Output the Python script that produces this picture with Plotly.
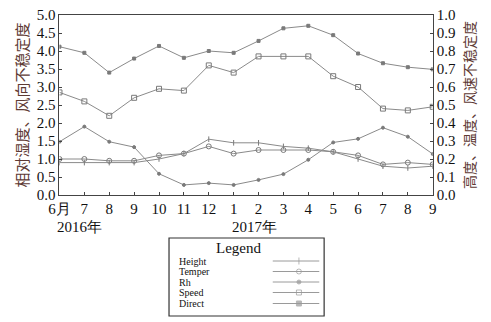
import plotly.graph_objects as go

# ---------------- data ----------------
months = ["6月", "7", "8", "9", "10", "11", "12", "1", "2", "3", "4", "5", "6", "7", "8", "9"]
year_labels = ["2016年", "2017年"]
year_positions = [0, 7]

# left axis (相对湿度、风向不稳定度)
direct = [4.12, 3.95, 3.40, 3.79, 4.14, 3.81, 4.00, 3.95, 4.28, 4.63, 4.70, 4.44, 3.93, 3.66, 3.55, 3.49]
rh = [1.48, 1.90, 1.48, 1.33, 0.59, 0.28, 0.33, 0.28, 0.42, 0.58, 0.98, 1.46, 1.56, 1.87, 1.62, 1.14]
# right axis (高度、温度、风速不稳定度)
height = [0.18, 0.18, 0.18, 0.18, 0.20, 0.23, 0.31, 0.29, 0.29, 0.27, 0.26, 0.24, 0.20, 0.16, 0.15, 0.16]
temper = [0.20, 0.20, 0.19, 0.19, 0.22, 0.23, 0.27, 0.23, 0.25, 0.25, 0.25, 0.24, 0.22, 0.17, 0.18, 0.17]
speed = [0.57, 0.52, 0.44, 0.54, 0.59, 0.58, 0.72, 0.68, 0.77, 0.77, 0.77, 0.66, 0.60, 0.48, 0.47, 0.49]

legend_names = ["Height", "Temper", "Rh", "Speed", "Direct"]
legend_symbols = ["line-ns", "circle-open", "circle", "square-open", "square"]

W, H = 491, 322
PL, PR, PT, PB = 50, 435, 15, 195  # plot box in pixels

def px_x(v):
    return v / W

def px_y(v):
    return 1 - v / H

LINE = "#8a8a8a"
MK = "#7a7a7a"
SERIF = "Liberation Serif, Times New Roman, serif"
CJK = "Noto Sans CJK SC"
TITLE_COL = "#5e3a34"

x = list(range(len(months)))
fig = go.Figure()

def add_series(y, symbol, axis, size):
    fig.add_trace(go.Scatter(
        x=x, y=y, mode="lines+markers", xaxis="x", yaxis=axis,
        line=dict(color=LINE, width=1),
        marker=dict(symbol=symbol, size=size, color=MK,
                    line=dict(color=MK, width=1)),
        showlegend=False, hoverinfo="skip"))

add_series(direct, "square", "y", 3)
add_series(rh, "circle", "y", 3)
add_series(speed, "square-open", "y2", 5)
add_series(temper, "circle-open", "y2", 5)
add_series(height, "line-ns", "y2", 4)

# ---------------- custom legend (inside a small axis) ----------------
leg_y = [261, 271.5, 282, 292.5, 303.5]
leg_sizes = [5, 5, 4, 5, 5]
for name, sym, ly, sz in zip(legend_names, legend_symbols, leg_y, leg_sizes):
    fig.add_trace(go.Scatter(
        x=[270, 297, 318], y=[ly, ly, ly], xaxis="x3", yaxis="y3",
        mode="lines+markers", line=dict(color="#9a9a9a", width=1),
        marker=dict(symbol=sym, size=[0, sz, 0], color="#9a9a9a",
                    line=dict(color="#9a9a9a", width=1)),
        showlegend=False, hoverinfo="skip"))

annotations = []
for name, ly in zip(legend_names, leg_y):
    annotations.append(dict(x=172, y=ly, xref="x3", yref="y3", text=name,
                            showarrow=False, xanchor="left", yanchor="middle",
                            borderpad=0,
                            font=dict(family=SERIF, size=10, color="#111")))
annotations.append(dict(x=235, y=248, xref="x3", yref="y3", text="Legend",
                        showarrow=False, xanchor="center", yanchor="middle",
                        font=dict(family=SERIF, size=15, color="#111")))

# year labels
for lab, pos in zip(year_labels, year_positions):
    annotations.append(dict(x=pos, y=px_y(227), xref="x", yref="paper", text=lab,
                            showarrow=False, xanchor="left", yanchor="middle",
                            xshift=-4,
                            font=dict(family=SERIF, size=15, color="#111")))

shapes = [dict(type="rect", xref="x3 domain", yref="y3 domain",
               x0=0, x1=1, y0=0, y1=1, line=dict(color="#333", width=1.2))]

tickfont = dict(family=SERIF, size=15, color="#111")
fig.update_layout(
    width=W, height=H, margin=dict(l=0, r=0, t=0, b=0),
    paper_bgcolor="white", plot_bgcolor="white",
    xaxis=dict(domain=[px_x(PL), px_x(PR)], range=[0, len(months) - 1],
               tickmode="array", tickvals=x, ticktext=months,
               showgrid=False, zeroline=False, showline=True, mirror=True,
               linecolor="#444", linewidth=1, ticks="inside", ticklen=3,
               tickcolor="#444", tickfont=tickfont),
    yaxis=dict(domain=[px_y(PB), px_y(PT)], range=[0, 5], dtick=0.5,
               tickformat=".1f", showgrid=False, zeroline=False,
               showline=True, linecolor="#444", linewidth=1,
               ticks="inside", ticklen=3, tickcolor="#444", tickfont=tickfont,
               title=dict(text="相对湿度、风向不稳定度", standoff=4,
                          font=dict(family=CJK, size=15, color=TITLE_COL)),
               automargin=False),
    yaxis2=dict(overlaying="y", side="right", anchor="x", range=[0, 1], dtick=0.1,
                tickformat=".1f", showgrid=False, zeroline=False,
                showline=True, linecolor="#444", linewidth=1,
                ticks="inside", ticklen=3, tickcolor="#444", tickfont=tickfont,
                title=dict(text="高度、温度、风速不稳定度", standoff=10,
                           font=dict(family=CJK, size=14, color=TITLE_COL)),
                automargin=False),
    xaxis3=dict(domain=[px_x(163), px_x(323)], range=[163, 323], visible=False,
                anchor="y3"),
    yaxis3=dict(domain=[px_y(316), px_y(238)], range=[316, 238], visible=False,
                anchor="x3"),
    annotations=annotations, shapes=shapes,
)

fig.write_html("out.html", config={"displayModeBar": False},
               post_script="document.body.style.margin='0';document.body.style.overflow='hidden';")
